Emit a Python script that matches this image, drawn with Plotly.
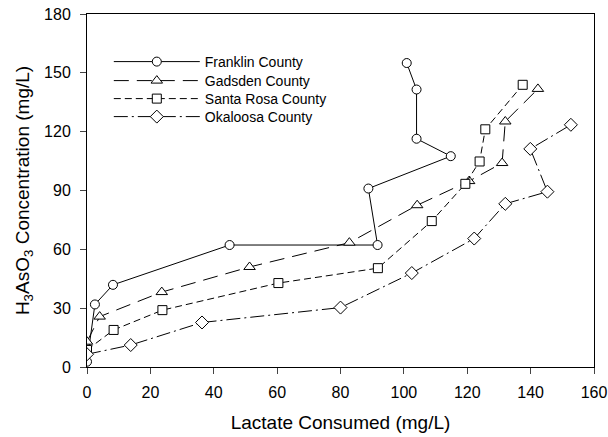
import plotly.graph_objects as go

# Franklin County
franklin_x = [0.0, 2.5, 8.2, 45.0, 91.7, 88.8, 114.8, 104.0, 104.0, 100.9]
franklin_y = [2.7, 31.9, 41.9, 62.2, 62.2, 91.0, 107.5, 116.4, 141.5, 155.0]
# Gadsden County
gadsden_x = [0.0, 4.0, 23.6, 51.3, 82.8, 104.2, 120.6, 131.0, 132.0, 142.3]
gadsden_y = [12.9, 25.7, 38.2, 51.0, 63.4, 82.5, 94.8, 104.0, 125.2, 141.8]
# Santa Rosa County
santarosa_x = [0.0, 8.4, 23.8, 60.4, 91.8, 108.8, 119.4, 123.9, 125.7, 137.5]
santarosa_y = [8.7, 18.9, 29.0, 42.8, 50.4, 74.4, 93.4, 104.8, 121.2, 143.9]
# Okaloosa County
okaloosa_x = [0.0, 13.8, 36.3, 80.0, 102.5, 122.2, 132.0, 145.3, 139.9, 152.7]
okaloosa_y = [6.5, 11.2, 22.7, 30.3, 47.9, 65.5, 83.2, 89.4, 111.2, 123.5]

series = [
    ("Franklin County", franklin_x, franklin_y, "circle", "solid", 9),
    ("Gadsden County", gadsden_x, gadsden_y, "triangle-up", "15px,8px", 10),
    ("Santa Rosa County", santarosa_x, santarosa_y, "square", "7px,4px", 9),
    ("Okaloosa County", okaloosa_x, okaloosa_y, "diamond", "14px,4px,2px,4px", 10),
]

x_ticks = [0, 20, 40, 60, 80, 100, 120, 140, 160]
y_ticks = [0, 30, 60, 90, 120, 150, 180]

W, H = 608, 437
L, R, T, B = 87, 14, 14, 70
plot_h = H - T - B
legend_rows_px = [62, 81, 99, 117]

font_family = "Arial, Liberation Sans, sans-serif"
fig = go.Figure()
legend_layout = {}
for i, (name, xs, ys, sym, dash, sz) in enumerate(series):
    lname = "legend" if i == 0 else f"legend{i + 1}"
    fig.add_trace(go.Scatter(
        x=xs, y=ys, name=name, mode="lines+markers",
        line=dict(color="black", width=1, dash=dash),
        marker=dict(symbol=sym, size=sz, color="white",
                    line=dict(color="black", width=1)),
        legend=lname,
    ))
    legend_layout[lname] = dict(
        x=0.043, y=(H - B - legend_rows_px[i]) / plot_h,
        xanchor="left", yanchor="middle",
        bgcolor="rgba(0,0,0,0)", itemwidth=86,
        font=dict(size=14, family=font_family, color="black"),
    )

fig.update_layout(
    width=W, height=H,
    margin=dict(l=L, r=R, t=T, b=B, autoexpand=False),
    paper_bgcolor="white", plot_bgcolor="white",
    font=dict(family=font_family, color="black", size=15),
    showlegend=True,
    xaxis=dict(range=[0, 160], tickvals=x_ticks, ticks="outside", ticklen=6,
               showline=True, linecolor="black", linewidth=1, mirror=True,
               showgrid=False, zeroline=False, automargin=False,
               ticklabeloverflow="allow",
               tickfont=dict(size=16), ticklabelstandoff=5,
               title=dict(text="Lactate Consumed (mg/L)", font=dict(size=19),
                          standoff=15)),
    yaxis=dict(range=[0, 180], tickvals=y_ticks, ticks="outside", ticklen=6,
               showline=True, linecolor="black", linewidth=1, mirror=True,
               showgrid=False, zeroline=False, automargin=False,
               ticklabeloverflow="allow",
               tickfont=dict(size=16), ticklabelstandoff=6,
               title=dict(text="H<sub>3</sub>AsO<sub>3</sub> Concentration (mg/L)",
                          font=dict(size=19), standoff=9)),
    **legend_layout,
)

fig.write_html(
    "out.html",
    config={"displayModeBar": False},
    post_script="document.body.style.margin='0';document.body.style.overflow='hidden';",
)
